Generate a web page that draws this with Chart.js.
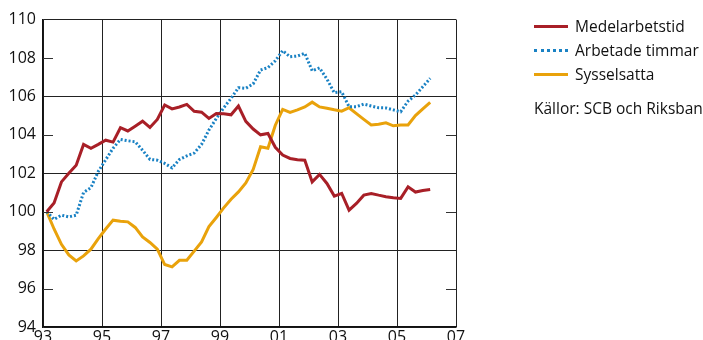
<!DOCTYPE html>
<html>
<head>
<meta charset="utf-8">
<script src="https://cdn.jsdelivr.net/npm/chart.js@4.4.0/dist/chart.umd.min.js"></script>
<style>
  html, body { margin: 0; padding: 0; background: #fff; }
  #wrap { position: relative; width: 703px; height: 340px; overflow: hidden; font-family: "Open Sans", sans-serif; }
  canvas { position: absolute; left: 0; top: 0; }
  .leg { position: absolute; left: 534px; font-size: 15.5px; color: #111; white-space: nowrap; line-height: 18px; }
  .leg .sw { display: inline-block; width: 34px; height: 0; vertical-align: middle; margin-right: 7px; position: relative; top: -1px; }
  .src { position: absolute; left: 534px; top: 99px; font-size: 15.5px; color: #111; white-space: nowrap; line-height: 18px; }
</style>
</head>
<body>
<div id="wrap">
  <canvas id="c" width="703" height="340"></canvas>
  <div class="leg" style="top:17px"><span class="sw" style="border-top:3px solid #a81f27"></span>Medelarbetstid</div>
  <div class="leg" style="top:41px"><span class="sw" style="border-top:3px dotted #1a82c4"></span>Arbetade timmar</div>
  <div class="leg" style="top:65px"><span class="sw" style="border-top:3px solid #e9a20b"></span>Sysselsatta</div>
  <div class="src">Källor: SCB och Riksbank</div>
</div>
<script>
// Quarters (year 'yy', quarter K1..K4)
const quarters = [
  '93K1','93K2','93K3','93K4',
  '94K1','94K2','94K3','94K4',
  '95K1','95K2','95K3','95K4',
  '96K1','96K2','96K3','96K4',
  '97K1','97K2','97K3','97K4',
  '98K1','98K2','98K3','98K4',
  '99K1','99K2','99K3','99K4',
  '00K1','00K2','00K3','00K4',
  '01K1','01K2','01K3','01K4',
  '02K1','02K2','02K3','02K4',
  '03K1','03K2','03K3','03K4',
  '04K1','04K2','04K3','04K4',
  '05K1','05K2','05K3','05K4',
  '06K1'
];

const medelarbetstid = [
  100.0, 100.45, 101.55, 102.0,
  102.42, 103.5, 103.3, 103.5,
  103.72, 103.62, 104.37, 104.2,
  104.45, 104.71, 104.38, 104.8,
  105.55, 105.35, 105.45, 105.58,
  105.22, 105.18, 104.85, 105.11,
  105.1, 105.04, 105.5, 104.7,
  104.3, 104.0, 104.07, 103.35,
  102.95, 102.77, 102.7, 102.68,
  101.55, 101.94, 101.47, 100.81,
  100.95, 100.08, 100.43, 100.86,
  100.95, 100.86, 100.78, 100.72,
  100.69, 101.29, 101.02, 101.1,
  101.16
];

const arbetadeTimmar = [
  100.0, 99.6, 99.82, 99.73,
  99.82, 101.0, 101.25, 102.1,
  102.7, 103.3, 103.76, 103.69,
  103.64, 103.2, 102.72, 102.68,
  102.51, 102.28, 102.72, 102.9,
  103.05, 103.5, 104.25, 104.85,
  105.4, 105.9, 106.45, 106.42,
  106.65, 107.37, 107.5, 107.85,
  108.38, 108.06, 108.1, 108.24,
  107.33, 107.48, 106.9, 106.19,
  106.24, 105.46, 105.46, 105.6,
  105.5, 105.41, 105.4, 105.3,
  105.2, 105.75, 106.07, 106.5,
  106.94
];

const sysselsatta = [
  100.0, 99.1, 98.3, 97.75,
  97.44, 97.7, 98.05, 98.6,
  99.1, 99.56, 99.5, 99.47,
  99.18, 98.69, 98.4, 98.05,
  97.25, 97.13, 97.47, 97.47,
  97.95, 98.43, 99.22, 99.7,
  100.2, 100.65, 101.03, 101.5,
  102.2, 103.38, 103.3, 104.5,
  105.32, 105.17, 105.3, 105.45,
  105.7, 105.45, 105.38, 105.3,
  105.23, 105.41, 105.1, 104.8,
  104.51, 104.55, 104.62, 104.47,
  104.51, 104.51, 105.0, 105.35,
  105.69
];

const xTickYears = [1993, 1995, 1997, 1999, 2001, 2003, 2005, 2007];
const yMin = 94, yMax = 110, yStep = 2;
const yFullGrid = [98, 102, 106];
const yShortTicks = [96, 100, 104, 108];

function quarterToX(q) {
  const yy = parseInt(q.slice(0, 2), 10);
  const year = yy < 50 ? 2000 + yy : 1900 + yy;
  const k = parseInt(q.slice(3), 10);
  return year + (k - 1) * 0.25 + 0.125;
}
function toPoints(vals) {
  return vals.map((v, i) => ({ x: quarterToX(quarters[i]), y: v }));
}

const shortTicks = {
  id: 'shortTicks',
  afterDatasetsDraw(chart) {
    const { ctx, chartArea, scales } = chart;
    ctx.save();
    ctx.strokeStyle = '#333';
    ctx.lineWidth = 1.2;
    yShortTicks.forEach(v => {
      const y = Math.round(scales.y.getPixelForValue(v)) + 0.5;
      ctx.beginPath();
      ctx.moveTo(chartArea.left, y); ctx.lineTo(chartArea.left + 10, y);
      ctx.moveTo(chartArea.right - 10, y); ctx.lineTo(chartArea.right, y);
      ctx.stroke();
    });
    ctx.restore();
  }
};

new Chart(document.getElementById('c'), {
  type: 'line',
  data: {
    datasets: [
      { label: 'Medelarbetstid', data: toPoints(medelarbetstid), borderColor: '#a81f27', borderWidth: 3, pointRadius: 0, tension: 0 },
      { label: 'Arbetade timmar', data: toPoints(arbetadeTimmar), borderColor: '#1a82c4', borderWidth: 3, borderDash: [2, 2], pointRadius: 0, tension: 0 },
      { label: 'Sysselsatta', data: toPoints(sysselsatta), borderColor: '#e9a20b', borderWidth: 3, pointRadius: 0, tension: 0 }
    ]
  },
  options: {
    responsive: false,
    animation: false,
    layout: { padding: { left: 0, top: 19.5, right: 247, bottom: 0 } },
    plugins: { legend: { display: false }, tooltip: { enabled: false } },
    scales: {
      x: {
        type: 'linear', min: 1993, max: 2007,
        afterBuildTicks(scale) { scale.ticks = xTickYears.map(v => ({ value: v })); },
        afterFit(scale) { scale.height = 13; scale.paddingLeft = 0; scale.paddingRight = 0; },
        ticks: {
          padding: 2, color: '#111', font: { family: 'Open Sans', size: 16, lineHeight: 1 },
          maxRotation: 0, autoSkip: false,
          callback: v => String(v % 100).padStart(2, '0')
        },
        grid: { color: '#222', lineWidth: 1, drawTicks: false },
        border: { color: '#111', width: 1.5 }
      },
      y: {
        min: yMin, max: yMax,
        afterFit(scale) { scale.width = 43; scale.paddingTop = 0; scale.paddingBottom = 0; },
        ticks: { stepSize: yStep, padding: 7, color: '#111', font: { family: 'Open Sans', size: 16 } },
        grid: {
          drawTicks: false, lineWidth: 1,
          color: c => (yFullGrid.includes(c.tick.value) || c.tick.value === yMin || c.tick.value === yMax) ? '#222' : 'rgba(0,0,0,0)'
        },
        border: { color: '#111', width: 1.5 }
      }
    }
  },
  plugins: [shortTicks]
});
</script>
</body>
</html>
